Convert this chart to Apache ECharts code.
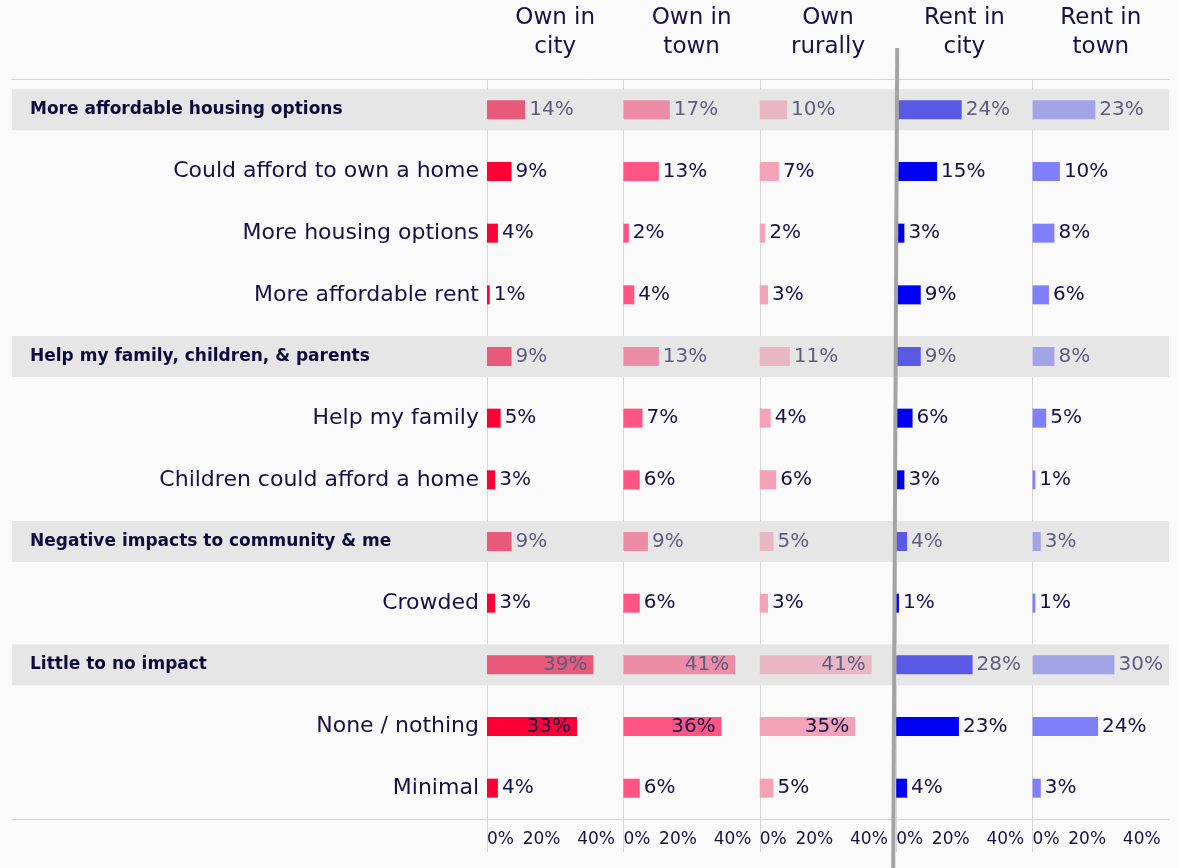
<!DOCTYPE html>
<html>
<head>
<meta charset="utf-8">
<script src="https://cdn.jsdelivr.net/npm/echarts@6/dist/echarts.min.js"></script>
<style>
html,body{margin:0;padding:0;background:#fafafa;}
#chart{width:1179px;height:868px;}
</style>
</head>
<body>
<div id="chart"></div>
<script>
// ---- data ----
const categories = [
  'More affordable housing options',
  'Could afford to own a home',
  'More housing options',
  'More affordable rent',
  'Help my family, children, & parents',
  'Help my family',
  'Children could afford a home',
  'Negative impacts to community & me',
  'Crowded',
  'Little to no impact',
  'None / nothing',
  'Minimal'
];
const groupHeaders = [
  'More affordable housing options',
  'Help my family, children, & parents',
  'Negative impacts to community & me',
  'Little to no impact'
];
const columns = ['Own in\ncity', 'Own in\ntown', 'Own\nrurally', 'Rent in\ncity', 'Rent in\ntown'];
const ownCity  = [14, 9, 4, 1, 9, 5, 3, 9, 3, 39, 33, 4];
const ownTown  = [17, 13, 2, 4, 13, 7, 6, 9, 6, 41, 36, 6];
const ownRural = [10, 7, 2, 3, 11, 4, 6, 5, 3, 41, 35, 5];
const rentCity = [24, 15, 3, 9, 9, 6, 3, 4, 1, 28, 23, 4];
const rentTown = [23, 10, 8, 6, 8, 5, 1, 3, 1, 30, 24, 3];
const seriesValues = [ownCity, ownTown, ownRural, rentCity, rentTown];
const axisMax = 50;
const tickInterval = 20;

// ---- styles ----
const headerColors = ['#e8597a', '#ec8ca7', '#e9b6c4', '#5959e6', '#a3a3e8'];
const detailColors = ['#ff0036', '#ff5585', '#f4a2b7', '#0000f5', '#8080ff'];
const FONT = '"DejaVu Sans", sans-serif';
const NAVY = '#15114a';
const GREY_LABEL = '#5f5d80';
const PANEL_LEFT = 487, PANEL_W = 136.4, TOP = 79, BOTTOM = 49;
const isHeader = c => groupHeaders.indexOf(c) >= 0;

const grids = [], xAxes = [], yAxes = [], series = [], titles = [];

columns.forEach((col, i) => {
  const left = PANEL_LEFT + i * PANEL_W;
  grids.push({left: left, width: PANEL_W, top: TOP, bottom: BOTTOM});
  xAxes.push({
    type: 'value', gridIndex: i, min: 0, max: axisMax, interval: tickInterval,
    position: 'bottom',
    axisLine: {show: false},
    axisTick: {show: true, customValues: [0], length: 33, lineStyle: {color: '#d6d6d6'}},
    splitLine: {show: true, lineStyle: {color: ['#d6d6d6', '#ececec', '#ececec', '#d6d6d6'], width: 1}},
    axisLabel: {
      formatter: '{value}%', showMaxLabel: false, alignMinLabel: 'left',
      fontFamily: FONT, fontSize: 17, color: NAVY, margin: 12
    }
  });
  yAxes.push({
    type: 'category', gridIndex: i, inverse: true, data: categories, z: 10,
    axisLine: {show: false}, axisTick: {show: false},
    axisLabel: i === 0 ? {
      show: true, margin: 8,
      formatter: v => isHeader(v) ? '{h|' + v + '}' : '{d|' + v + '}',
      rich: {
        h: {width: 449, align: 'left', fontWeight: 'bold', fontSize: 17, color: '#0d0b3d', fontFamily: FONT},
        d: {width: 449, align: 'right', fontSize: 22, color: NAVY, fontFamily: FONT}
      }
    } : {show: false}
  });
  const vals = seriesValues[i];
  series.push({
    type: 'bar', xAxisIndex: i, yAxisIndex: i, barWidth: 19, z: 3,
    data: vals.map((v, k) => {
      const h = isHeader(categories[k]);
      const inside = v > 31;
      return {
        value: v,
        itemStyle: {color: h ? headerColors[i] : detailColors[i]},
        label: {
          show: true, position: inside ? 'insideRight' : 'right', distance: inside ? 6 : 4,
          formatter: '{c}%', fontFamily: FONT, fontSize: 20,
          color: h ? GREY_LABEL : NAVY
        }
      };
    })
  });
  titles.push({
    text: col, left: left + PANEL_W / 2, top: 4, padding: 0, textAlign: 'center',
    textStyle: {fontFamily: FONT, fontSize: 23, fontWeight: 'normal', color: NAVY, lineHeight: 29}
  });
});

// background grid for the grey group bands and the top/bottom rules
const bg = columns.length;
grids.push({left: 12, right: 10, top: TOP, bottom: BOTTOM});
xAxes.push({type: 'value', gridIndex: bg, min: 0, max: 1, position: 'top',
  axisLine: {show: true, lineStyle: {color: '#d4d4d4'}}, axisTick: {show: false},
  axisLabel: {show: false}, splitLine: {show: false}});
xAxes.push({type: 'value', gridIndex: bg, min: 0, max: 1, position: 'bottom',
  axisLine: {show: true, lineStyle: {color: '#d4d4d4'}}, axisTick: {show: false},
  axisLabel: {show: false}, splitLine: {show: false}});
yAxes.push({type: 'category', gridIndex: bg, inverse: true, data: categories, show: false});
series.push({
  type: 'bar', xAxisIndex: bg, yAxisIndex: columns.length, barWidth: 41, z: 1, silent: true,
  itemStyle: {color: '#e6e6e6'},
  data: categories.map(c => isHeader(c) ? 1 : '-')
});

const sepX = PANEL_LEFT + 3 * PANEL_W;
const chart = echarts.init(document.getElementById('chart'));
chart.setOption({
  backgroundColor: '#fafafa',
  animation: false,
  title: titles,
  grid: grids,
  xAxis: xAxes,
  yAxis: yAxes,
  series: series,
  graphic: [{
    type: 'line', z: 100, silent: true,
    shape: {x1: sepX + 1, y1: 48, x2: sepX - 3, y2: 868},
    style: {stroke: '#a4a4a4', lineWidth: 4}
  }]
});
</script>
</body>
</html>
